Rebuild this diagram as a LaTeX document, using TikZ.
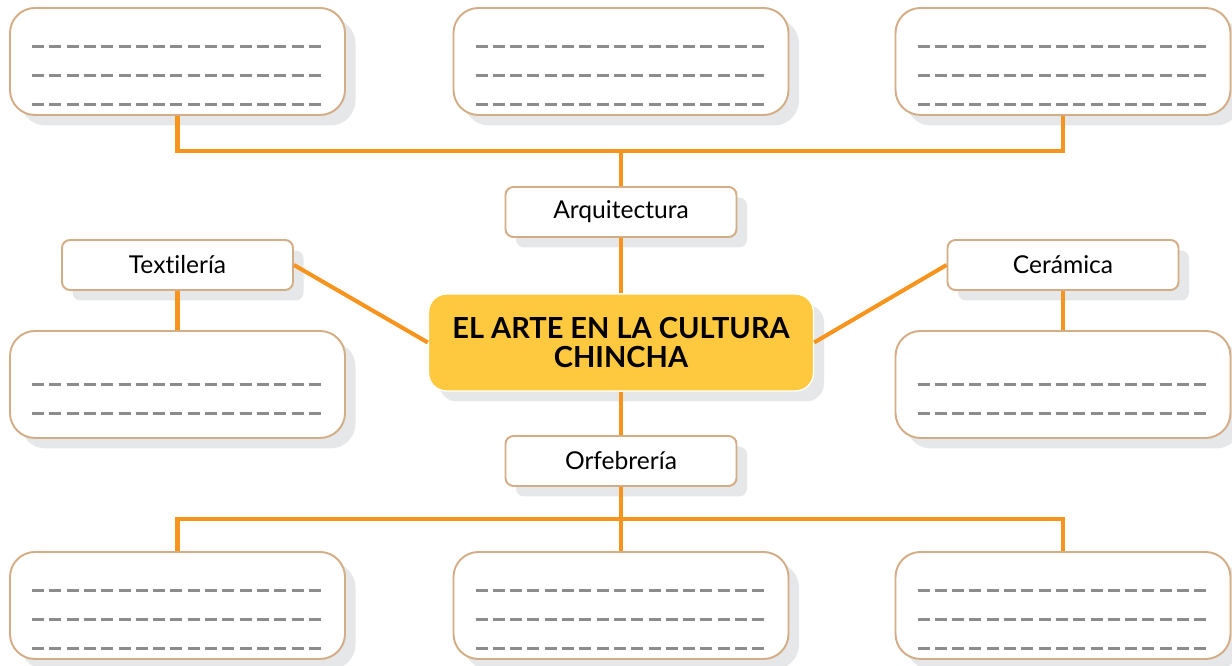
\documentclass[tikz,border=0pt]{standalone}
\usepackage{fontspec}
\setmainfont{Lato}[Ligatures={NoCommon}]
\definecolor{CHorange}{HTML}{F7941D}
\definecolor{CHtan}{HTML}{D3AD86}
\definecolor{CHyellow}{HTML}{FEC93F}
\definecolor{CHshadow}{HTML}{E6E7E8}
\definecolor{CHdash}{HTML}{8C8C8C}
\usetikzlibrary{shadows, positioning}
\tikzset{
   graybox/.style={drop shadow={shadow xshift=0.21cm, shadow yshift=-0.21cm, fill=CHshadow, opacity=1}},
   answerbox/.style={graybox, draw=CHtan, line width=1.1pt, fill=white, rounded corners=0.5cm,
      minimum width=6.7cm, minimum height=2.14cm},
   topicbox/.style={graybox, draw=CHtan, line width=1.1pt, fill=white, rounded corners=0.16cm,
      minimum width=4.62cm, minimum height=1cm, font=\fontsize{14}{16}\selectfont},
   mainbox/.style={graybox, draw=white, line width=0.8pt, fill=CHyellow, rounded corners=0.36cm,
      minimum width=7.7cm, minimum height=1.94cm, align=center,
      font=\bfseries\fontsize{16.5}{16.5}\selectfont},
   link/.style={CHorange, line width=2.3pt},
   writeline/.style={CHdash, line width=1.7pt, dash pattern=on 0.24cm off 0.106cm}
}
\newcommand{\writelines}[2]{%
   \foreach \dy in {#2}
      \draw[writeline] ([xshift=0.46cm, yshift=-\dy cm]#1.north west)
         -- ([xshift=-0.46cm, yshift=-\dy cm]#1.north east);}

\begin{document}
\begin{tikzpicture}
            \useasboundingbox (0,0) rectangle (24.64,13.32);
            % Central topic
            \node[mainbox] (chincha) at (12.42,6.47) {EL ARTE EN LA CULTURA\\CHINCHA};
            % Topic labels
            \node[topicbox] (arq) at (12.42,9.08) {Arquitectura};
            \node[topicbox] (orf) at (12.42,4.10) {Orfebrería};
            \node[topicbox] (tex) at (3.55,8.02) {Textilería};
            \node[topicbox] (cer) at (21.26,8.02) {Cerámica};
            % Answer boxes
            \node[answerbox] (arqA) at (3.55,12.09) {};
            \node[answerbox] (arqB) at (12.42,12.09) {};
            \node[answerbox] (arqC) at (21.26,12.09) {};
            \node[answerbox] (texA) at (3.55,5.63) {};
            \node[answerbox] (cerA) at (21.26,5.63) {};
            \node[answerbox] (orfA) at (3.55,1.21) {};
            \node[answerbox] (orfB) at (12.42,1.21) {};
            \node[answerbox] (orfC) at (21.26,1.21) {};
            % Writing lines
            \foreach \b in {arqA, arqB, arqC, orfA, orfB, orfC}
               \writelines{\b}{0.78, 1.36, 1.94}
            \foreach \b in {texA, cerA}
               \writelines{\b}{1.08, 1.66}
            % Connectors
            \coordinate (arqbar) at (12.42,10.30);
            \coordinate (orfbar) at (12.42,2.94);
            \draw[link] (arqA.south) |- (arqbar) -| (arqC.south);
            \draw[link] (arqbar) -- (arq.north);
            \draw[link] (arq.south) -- (chincha.north);
            \draw[link] (chincha.south) -- (orf.north);
            \draw[link] (orf.south) -- (orfB.north);
            \draw[link] (orfA.north) |- (orfbar) -| (orfC.north);
            \draw[link] (tex.east) -- (chincha.west);
            \draw[link] (cer.west) -- (chincha.east);
            \draw[link] (tex.south) -- (texA.north);
            \draw[link] (cer.south) -- (cerA.north);
         \end{tikzpicture}
\end{document}
